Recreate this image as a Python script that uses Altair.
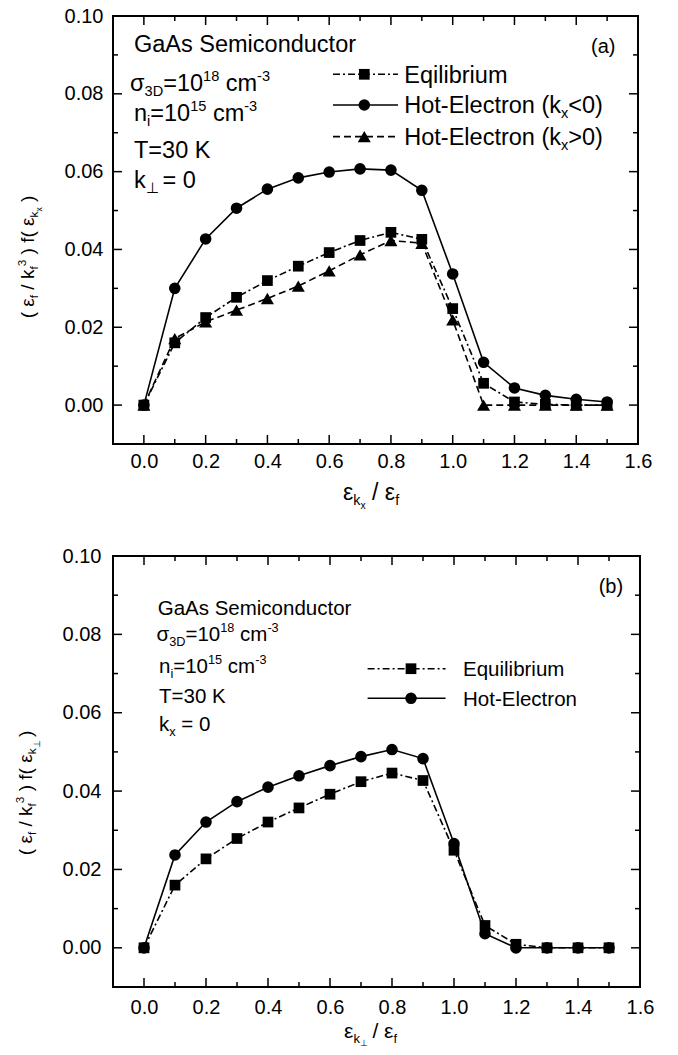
import altair as alt
import pandas as pd

# ---------------- data ----------------
X_VALS = [0.0, 0.1, 0.2, 0.3, 0.4, 0.5, 0.6, 0.7, 0.8, 0.9, 1.0, 1.1, 1.2, 1.3, 1.4, 1.5]

A_EQUILIBRIUM = [0.0, 0.0160, 0.0225, 0.0277, 0.0320, 0.0357, 0.0392, 0.0423, 0.0444, 0.0426,
                 0.0248, 0.0056, 0.0008, 0.0002, 0.0, 0.0]
A_HOT_NEG = [0.0, 0.0300, 0.0427, 0.0506, 0.0555, 0.0584, 0.0599, 0.0607, 0.0604, 0.0552,
             0.0337, 0.0110, 0.0044, 0.0025, 0.0015, 0.0008]
A_HOT_POS = [0.0, 0.0171, 0.0214, 0.0244, 0.0274, 0.0306, 0.0345, 0.0386, 0.0423, 0.0416,
             0.0219, 0.0, 0.0, 0.0, 0.0, 0.0]

B_EQUILIBRIUM = [0.0, 0.0160, 0.0227, 0.0279, 0.0321, 0.0357, 0.0392, 0.0424, 0.0446, 0.0427,
                 0.0249, 0.0057, 0.0009, 0.0, 0.0, 0.0]
B_HOT = [0.0, 0.0237, 0.0321, 0.0373, 0.0410, 0.0439, 0.0465, 0.0488, 0.0506, 0.0483,
         0.0266, 0.0036, 0.0, 0.0, 0.0, 0.0]

X_MAJOR = [0.0, 0.2, 0.4, 0.6, 0.8, 1.0, 1.2, 1.4, 1.6]
X_MINOR = [0.1, 0.3, 0.5, 0.7, 0.9, 1.1, 1.3, 1.5]
Y_MAJOR = [0.0, 0.02, 0.04, 0.06, 0.08, 0.10]
Y_MINOR = [0.01, 0.03, 0.05, 0.07, 0.09]
X_DOMAIN = [-0.1, 1.6]
Y_DOMAIN = [-0.01, 0.10]

FONT = "Liberation Sans"
ONE = pd.DataFrame({"k": [0]})

# approximate Arial advance widths (per em) used to lay out rich text pieces
AW = {' ': .278, '(': .333, ')': .333, '/': .278, '=': .584, '<': .584, '>': .584, '-': .333,
      '.': .278, 'A': .667, 'C': .722, 'D': .722, 'E': .667, 'G': .778, 'H': .722, 'K': .667,
      'S': .667, 'T': .611, 'a': .556, 'b': .556, 'c': .5, 'd': .556, 'e': .556, 'f': .278,
      'h': .556, 'i': .222, 'k': .5, 'l': .222, 'm': .833, 'n': .556, 'o': .556, 'q': .556,
      'r': .333, 's': .5, 't': .278, 'u': .556, 'x': .5, 'ε': .45, 'σ': .62, '⊥': .7}
for d in "0123456789":
    AW[d] = .556
SCALE = {0: 1.0, 1: 0.62, -1: 0.62, -2: 0.45}
SHIFT = {0: 0.0, 1: 0.42, -1: -0.22, -2: -0.40}


def tw(txt, fs):
    return sum(AW.get(c, .556) for c in txt) * fs


def rich(pieces, x0, y0, fs, angle=0):
    layers = []
    pos = 0.0
    for txt, lvl in pieces:
        f = fs * SCALE[lvl]
        sh = fs * SHIFT[lvl]
        stripped_l = txt.lstrip(' ')
        core = stripped_l.rstrip(' ')
        pos += (len(txt) - len(stripped_l)) * AW[' '] * f
        if core:
            if angle == 0:
                px, py = x0 + pos, y0 - sh
            else:
                px, py = x0 - sh, y0 - pos
            layers.append(
                alt.Chart(ONE).mark_text(text=core, align="left", baseline="alphabetic",
                                         fontSize=f, angle=angle, font=FONT, color="black")
                .encode(x=alt.value(px), y=alt.value(py))
            )
            pos += tw(core, f)
        pos += (len(stripped_l) - len(core)) * AW[' '] * f
    return layers, pos


def rich_centered_vertical(pieces, xb, yc, fs):
    _, total = rich(pieces, 0, 0, fs, 270)
    layers, _ = rich(pieces, xb, yc + total / 2, fs, 270)
    return layers


def panel(W, H, series, ann, ann_fs, legend, leg_fs, leg_line, label, xtitle, ytitle,
          lpx, lpy, anchor=False):
    xs = alt.Scale(domain=X_DOMAIN, nice=False, zero=False)
    ys = alt.Scale(domain=Y_DOMAIN, nice=False, zero=False)
    xax = alt.Axis(values=X_MAJOR, format=".1f", title=None, grid=False, domain=False,
                   ticks=False, tickSize=0, labelFontSize=20, labelFont=FONT,
                   labelColor="black", labelPadding=lpx, labelFlush=False, labelOverlap=False)
    yax = alt.Axis(values=Y_MAJOR, format=".2f", title=None, grid=False, domain=False,
                   ticks=False, tickSize=0, labelFontSize=20, labelFont=FONT,
                   labelColor="black", labelPadding=lpy, labelFlush=False, labelOverlap=False)
    layers = []
    for vals, shape, dash, msize in series:
        df = pd.DataFrame({"x": X_VALS, "y": vals})
        xe = alt.X("x:Q", scale=xs, axis=xax)
        ye = alt.Y("y:Q", scale=ys, axis=yax)
        lk = dict(color="black", strokeWidth=1.6)
        if dash:
            lk["strokeDash"] = dash
        layers.append(alt.Chart(df).mark_line(**lk).encode(x=xe, y=ye))
        layers.append(alt.Chart(df).mark_point(shape=shape, filled=True, size=msize, color="black",
                                               opacity=1).encode(x=xe, y=ye))

    # inward ticks on all four sides
    for vals, ln in ((X_MAJOR, 9), (X_MINOR, 5)):
        d = pd.DataFrame({"v": vals})
        layers.append(alt.Chart(d).mark_rule(color="black", strokeWidth=1.5).encode(
            x=alt.X("v:Q", scale=xs, axis=xax), y=alt.value(H), y2=alt.value(H - ln)))
        layers.append(alt.Chart(d).mark_rule(color="black", strokeWidth=1.5).encode(
            x=alt.X("v:Q", scale=xs, axis=xax), y=alt.value(0), y2=alt.value(ln)))
    for vals, ln in ((Y_MAJOR, 9), (Y_MINOR, 5)):
        d = pd.DataFrame({"v": vals})
        layers.append(alt.Chart(d).mark_rule(color="black", strokeWidth=1.5).encode(
            y=alt.Y("v:Q", scale=ys, axis=yax), x=alt.value(0), x2=alt.value(ln)))
        layers.append(alt.Chart(d).mark_rule(color="black", strokeWidth=1.5).encode(
            y=alt.Y("v:Q", scale=ys, axis=yax), x=alt.value(W), x2=alt.value(W - ln)))

    # annotation block
    for pieces, x0, yb in ann:
        l, _ = rich(pieces, x0, yb, ann_fs)
        layers += l
    # legend
    x1, x2, xm, xt = leg_line
    for pieces, yc, yb, shape, dash, msize in legend:
        rk = dict(color="black", strokeWidth=1.6)
        if dash:
            rk["strokeDash"] = dash
        layers.append(alt.Chart(ONE).mark_rule(**rk).encode(
            x=alt.value(x1), x2=alt.value(x2), y=alt.value(yc)))
        layers.append(alt.Chart(ONE).mark_point(shape=shape, filled=True, size=msize, color="black",
                                                opacity=1).encode(x=alt.value(xm), y=alt.value(yc)))
        l, _ = rich(pieces, xt, yb, leg_fs)
        layers += l
    # panel label
    ltxt, lx, ly, lfs = label
    layers.append(alt.Chart(ONE).mark_text(text=ltxt, align="left", baseline="alphabetic",
                                           fontSize=lfs, font=FONT, color="black")
                  .encode(x=alt.value(lx), y=alt.value(ly)))
    # axis titles
    xp, xx, xy, xfs = xtitle
    l, _ = rich(xp, xx, xy, xfs)
    layers += l
    yp, yx, yy, yfs = ytitle
    layers += rich_centered_vertical(yp, yx, yy, yfs)
    if anchor:
        layers.append(alt.Chart(ONE).mark_rule(strokeOpacity=0, strokeWidth=1).encode(
            x=alt.value(-103.7), y=alt.value(100), y2=alt.value(101)))
    return alt.layer(*layers).properties(width=W, height=H)


DASHDOT = [7, 3, 2, 3]
DASH = [7, 4]
SQ, CI, TR = 115, 135, 170

# ---------------- panel (a) ----------------
WA, HA = 525, 428
ann_a = [
    ([("GaAs Semiconductor", 0)], 21, 35.6),
    ([("σ", 0), ("3D", -1), ("=10", 0), ("18", 1), (" cm", 0), ("-3", 1)], 17, 75),
    ([("n", 0), ("i", -1), ("=10", 0), ("15", 1), (" cm", 0), ("-3", 1)], 21, 105),
    ([("T=30 K", 0)], 21, 141.5),
    ([("k", 0), ("⊥", -1), (" = 0", 0)], 21, 172),
]
leg_a = [
    ([("Eqilibrium", 0)], 58.3, 67.3, "square", DASHDOT, SQ),
    ([("Hot-Electron (k", 0), ("x", -1), ("<0)", 0)], 89, 97.3, "circle", None, CI),
    ([("Hot-Electron (k", 0), ("x", -1), (">0)", 0)], 120.6, 129, "triangle-up", DASH, TR),
]
panel_a = panel(
    WA, HA,
    [(A_EQUILIBRIUM, "square", DASHDOT, SQ), (A_HOT_NEG, "circle", None, CI),
     (A_HOT_POS, "triangle-up", DASH, TR)],
    ann_a, 23.5, leg_a, 23.5, (220, 285, 251.3, 291.3),
    ("(a)", 478, 37, 20),
    ([("ε", 0), ("k", -1), ("x", -2), (" / ε", 0), ("f", -1)], 230, HA + 56, 23),
    ([("( ", 0), ("ε", 0), ("f", -1), (" / k", 0), ("f", -1), ("3", 1), (" ) f( ", 0), ("ε", 0),
      ("k", -1), ("x", -2), (" )", 0)], -79, 241, 19),
    7, 10, anchor=True)

# ---------------- panel (b) ----------------
WB, HB = 527, 431
ann_b = [
    ([("GaAs Semiconductor", 0)], 44.7, 58.7),
    ([("σ", 0), ("3D", -1), ("=10", 0), ("18", 1), (" cm", 0), ("-3", 1)], 43.5, 85),
    ([("n", 0), ("i", -1), ("=10", 0), ("15", 1), (" cm", 0), ("-3", 1)], 46, 117),
    ([("T=30 K", 0)], 46, 147),
    ([("k", 0), ("x", -1), (" = 0", 0)], 46, 175),
]
leg_b = [
    ([("Equilibrium", 0)], 112.7, 120, "square", DASHDOT, SQ),
    ([("Hot-Electron", 0)], 142.3, 150, "circle", None, CI),
]
panel_b = panel(
    WB, HB,
    [(B_EQUILIBRIUM, "square", DASHDOT, SQ), (B_HOT, "circle", None, CI)],
    ann_b, 20.5, leg_b, 20.5, (254.6, 332.6, 298, 350),
    ("(b)", 485.7, 37, 20),
    ([("ε", 0), ("k", -1), ("⊥", -2), (" / ε", 0), ("f", -1)], 231, HB + 51, 21),
    ([("( ", 0), ("ε", 0), ("f", -1), (" / k", 0), ("f", -1), ("3", 1), (" ) f( ", 0), ("ε", 0),
      ("k", -1), ("⊥", -2), (" )", 0)], -81, 237, 19),
    10, 12)

chart = alt.vconcat(panel_a, panel_b, spacing=32).properties(
    padding={"left": 0, "top": -3, "right": 0, "bottom": 0}
).configure_view(stroke="black", strokeWidth=2)

chart.save("out.html", embed_options={"renderer": "svg", "actions": False})
